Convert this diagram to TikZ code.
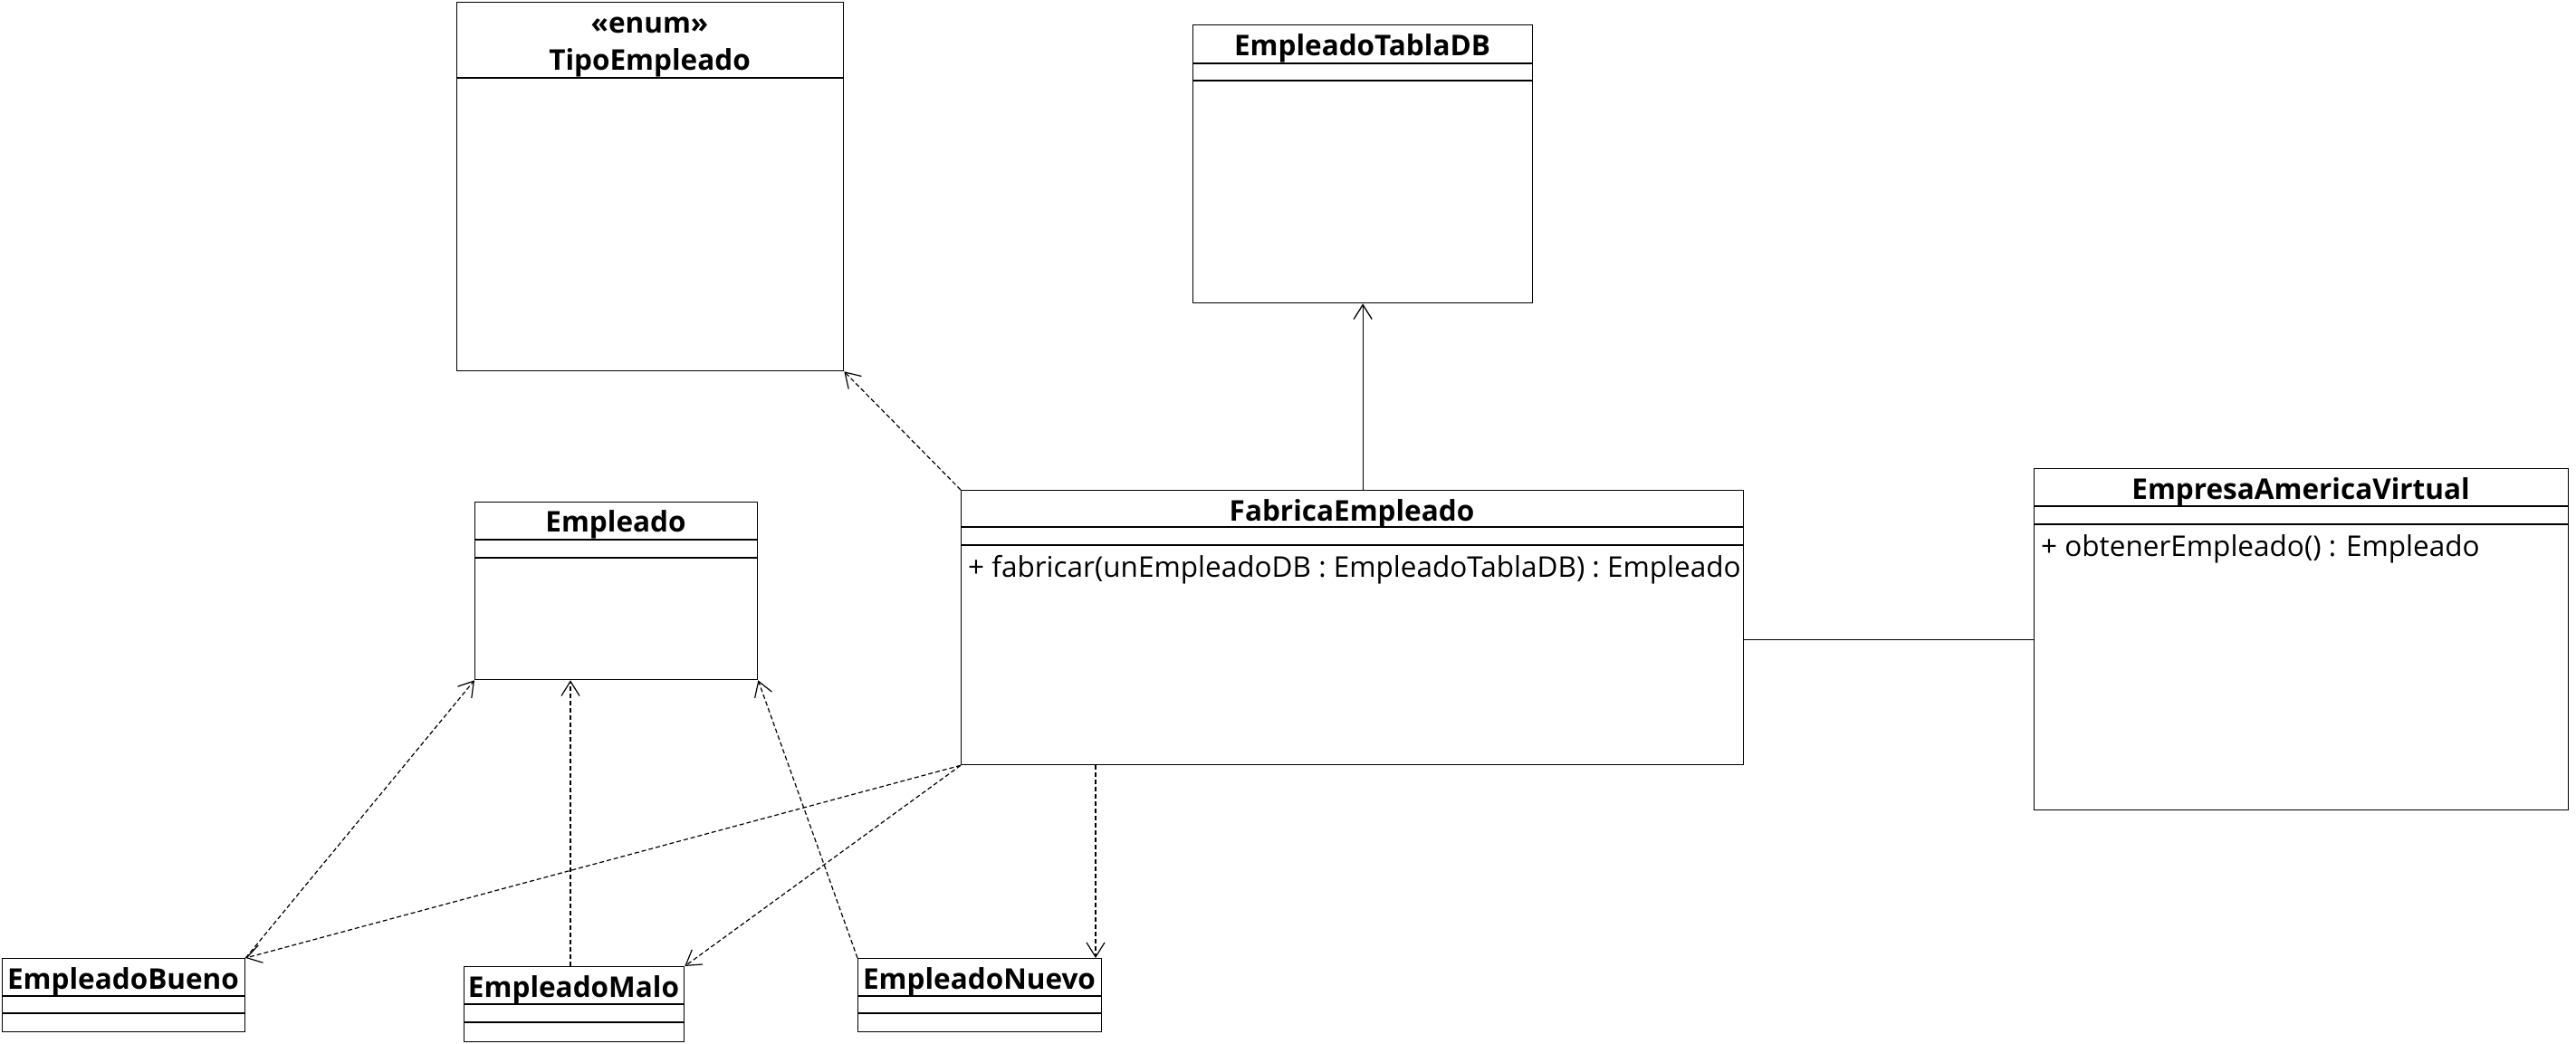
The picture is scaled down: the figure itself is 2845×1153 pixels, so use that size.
\documentclass[tikz,border=0pt]{standalone}
\usepackage{fontspec}
\setmainfont{Open Sans}
\usetikzlibrary{arrows.meta,calc}
\begin{document}
\begin{tikzpicture}[x=1pt,y=-1pt,
  box/.style={draw=black,line width=1.3pt,rectangle,inner sep=0pt,anchor=north west},
  ttl/.style={font=\fontsize{31.5}{38}\selectfont\bfseries,inner sep=0pt,anchor=center},
  meth/.style={font=\fontsize{31.5}{38}\selectfont,inner sep=0pt,anchor=west},
  dep/.style={line width=1.2pt,dash pattern=on 5pt off 3pt,-{Straight Barb[length=16pt,width=20pt,line width=1.2pt]}},
  assoc/.style={line width=1.3pt,-{Straight Barb[length=16pt,width=20pt,line width=1.3pt]}},
  plain/.style={line width=1.3pt}]
\useasboundingbox (0,0) rectangle (2845,1153);
% boxes
\node[box,minimum width=427pt,minimum height=407pt] (tipo) at (504,2) {};
\node[box,minimum width=375pt,minimum height=307pt] (tabla) at (1317,27) {};
\node[box,minimum width=312pt,minimum height=196pt] (emp) at (524,554) {};
\node[box,minimum width=864pt,minimum height=303pt] (fab) at (1061,541) {};
\node[box,minimum width=590pt,minimum height=377pt] (empresa) at (2246,517) {};
\node[box,minimum width=268pt,minimum height=81pt] (bueno) at (2,1058) {};
\node[box,minimum width=243pt,minimum height=83pt] (malo) at (512,1067) {};
\node[box,minimum width=269pt,minimum height=81pt] (nuevo) at (947,1058) {};
% dividers
\draw[plain] (504,86) -- (931,86);
\draw[plain] (1317,70) -- (1692,70);
\draw[plain] (1317,89) -- (1692,89);
\draw[plain] (524,596) -- (836,596);
\draw[plain] (524,616) -- (836,616);
\draw[plain] (1061,582) -- (1925,582);
\draw[plain] (1061,602) -- (1925,602);
\draw[plain] (2246,559) -- (2836,559);
\draw[plain] (2246,579) -- (2836,579);
\draw[plain] (2,1100) -- (270,1100);
\draw[plain] (2,1119) -- (270,1119);
\draw[plain] (512,1109) -- (755,1109);
\draw[plain] (512,1129) -- (755,1129);
\draw[plain] (947,1100) -- (1216,1100);
\draw[plain] (947,1119) -- (1216,1119);
% titles
\node[ttl] (tipoS) at (717.5,28) {«enum»};
\node[ttl] (tipoT) at (717.5,69) {TipoEmpleado};
\node[ttl] (tablaT) at (1504.5,53) {EmpleadoTablaDB};
\node[ttl] (empT) at (680,579) {Empleado};
\node[ttl] (fabT) at (1493,567) {FabricaEmpleado};
\node[ttl] (empresaT) at (2541,543) {EmpresaAmericaVirtual};
\node[ttl] (buenoT) at (136,1084) {EmpleadoBueno};
\node[ttl] (maloT) at (633.5,1093) {EmpleadoMalo};
\node[ttl] (nuevoT) at (1081.5,1084) {EmpleadoNuevo};
% methods
\node[meth] (fabM) at (1069,629) {+ fabricar(unEmpleadoDB : EmpleadoTablaDB) : Empleado};
\node[meth] (empresaM) at (2254,606) {+ obtenerEmpleado() : Empleado};
% connectors
\coordinate (nuevoTop) at (1210,1058);
\coordinate (maloTop) at (630,1067);
\draw[dep] (fab.north west) -- (tipo.south east);
\draw[assoc] (tabla.south |- fab.north) -- (tabla.south);
\draw[plain] (fab.east |- empresa.west) -- (empresa.west);
\draw[dep] (fab.south west) -- (bueno.north east);
\draw[dep] (fab.south west) -- (malo.north east);
\draw[dep] (fab.south -| nuevoTop) -- (nuevoTop);
\draw[dep] (bueno.north east) -- (emp.south west);
\draw[dep] (maloTop) -- (maloTop |- emp.south);
\draw[dep] (nuevo.north west) -- (emp.south east);
\end{tikzpicture}
\end{document}
